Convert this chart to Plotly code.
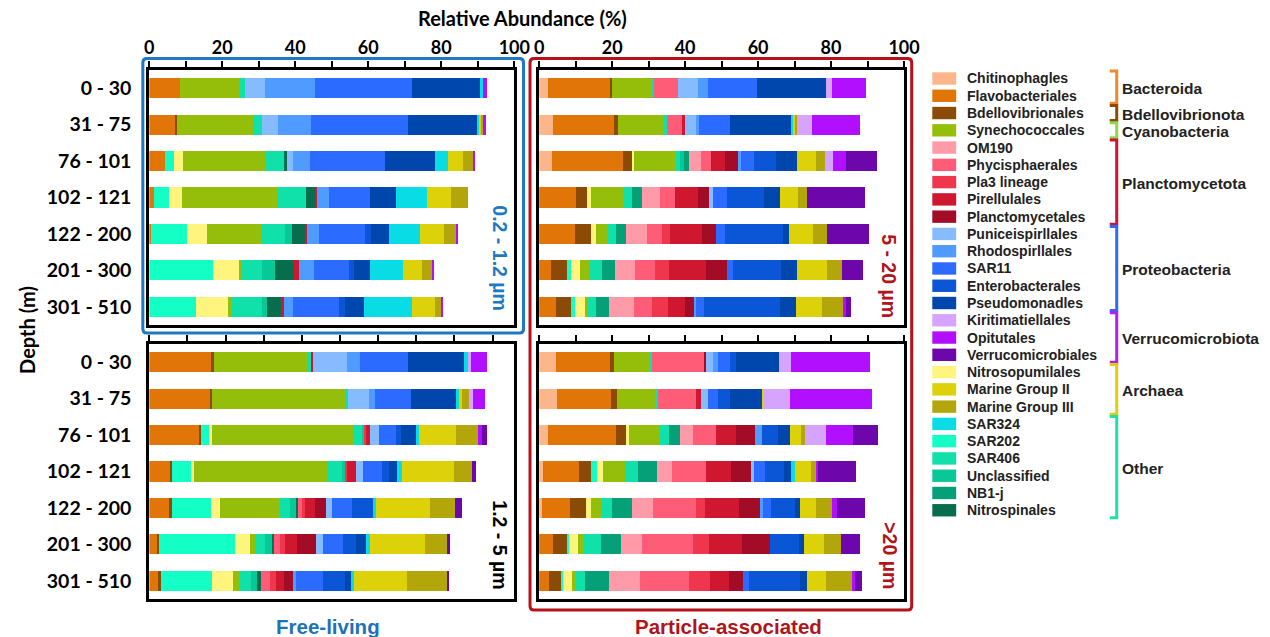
import plotly.graph_objects as go

# ---------------- data ----------------
DEPTHS = ["0 - 30", "31 - 75", "76 - 101", "102 - 121", "122 - 200", "201 - 300", "301 - 510"]

LEGEND_ORDER = [
    "Chitinophagles", "Flavobacteriales", "Bdellovibrionales", "Synechococcales",
    "OM190", "Phycisphaerales", "Pla3 lineage", "Pirellulales", "Planctomycetales",
    "Puniceispirllales", "Rhodospirllales", "SAR11", "Enterobacterales", "Pseudomonadles",
    "Kiritimatiellales", "Opitutales", "Verrucomicrobiales",
    "Nitrosopumilales", "Marine Group II", "Marine Group III",
    "SAR324", "SAR202", "SAR406", "Unclassified", "NB1-j", "Nitrospinales",
]

COLORS = {
    "Chitinophagles": "#FDB58A", "Flavobacteriales": "#E27508", "Bdellovibrionales": "#8B4A06",
    "Synechococcales": "#95BE0B", "OM190": "#FF9AA8", "Phycisphaerales": "#FF5C78",
    "Pla3 lineage": "#F0364C", "Pirellulales": "#CF1830", "Planctomycetales": "#A30C26",
    "Puniceispirllales": "#86BBFF", "Rhodospirllales": "#4F9BFF", "SAR11": "#2B6BFF",
    "Enterobacterales": "#0A56D6", "Pseudomonadles": "#0047AD", "Kiritimatiellales": "#D6A3FF",
    "Opitutales": "#B20EFF", "Verrucomicrobiales": "#6E07AB", "Nitrosopumilales": "#FFF47D",
    "Marine Group II": "#DDD20A", "Marine Group III": "#B3A60A", "SAR324": "#0ADCE5",
    "SAR202": "#13FFC6", "SAR406": "#10E0AA", "Unclassified": "#07C896",
    "NB1-j": "#06A078", "Nitrospinales": "#066E4D",
}

STACK_ORDER = [
    "Chitinophagles", "Flavobacteriales", "Bdellovibrionales", "SAR202", "Nitrosopumilales",
    "Synechococcales", "SAR406", "Unclassified", "NB1-j", "Nitrospinales",
    "OM190", "Phycisphaerales", "Pla3 lineage", "Pirellulales", "Planctomycetales",
    "Puniceispirllales", "Rhodospirllales", "SAR11", "Enterobacterales", "Pseudomonadles",
    "SAR324", "Marine Group II", "Marine Group III",
    "Kiritimatiellales", "Opitutales", "Verrucomicrobiales",
]

GROUPS = ["Bacteroida", "Bdellovibrionota", "Cyanobacteria", "Planctomycetota",
          "Proteobacteria", "Verrucomicrobiota", "Archaea", "Other"]
GROUP_FIRST = [0, 2, 3, 4, 9, 14, 17, 20]
GROUP_LAST = [1, 2, 3, 8, 13, 16, 19, 25]
GROUP_COLORS = ["#F0882E", "#8B4A06", "#8ED84C", "#CC1530",
                "#2E6BF0", "#B020F0", "#E0CC10", "#20E0A8"]

# Free-living 0.2 - 1.2 um (% relative abundance, 7 depths)
FL_SMALL = {
    "Flavobacteriales":  [8.45, 7.3, 4.4, 1.4, 0.4, 0, 0],
    "Bdellovibrionales": [0, 0.2, 0, 0, 0, 0, 0],
    "SAR202":            [0, 0, 2.5, 4.1, 10.0, 17.5, 12.9],
    "Nitrosopumilales":  [0, 0, 2.45, 3.4, 5.3, 7.3, 8.9],
    "Synechococcales":   [16.3, 20.9, 22.5, 26.4, 15.2, 0.45, 0.45],
    "SAR406":            [1.45, 2.45, 5.1, 7.7, 6.4, 5.7, 8.6],
    "Unclassified":      [0, 0, 0, 0, 1.8, 3.6, 1.5],
    "Nitrospinales":     [0, 0, 0.7, 2.5, 3.6, 5.0, 3.7],
    "Pirellulales":      [0, 0, 0, 0.5, 0.6, 1.6, 0.8],
    "Puniceispirllales": [5.4, 4.4, 1.8, 0, 0, 0, 0],
    "Rhodospirllales":   [13.7, 9.0, 4.7, 3.1, 3.2, 4.0, 2.5],
    "SAR11":             [26.8, 26.5, 20.5, 11.4, 12.7, 9.5, 12.7],
    "Enterobacterales":  [0, 0, 0, 0, 1.6, 1.5, 1.6],
    "Pseudomonadles":    [18.6, 19.0, 13.5, 7.1, 5.0, 4.3, 5.2],
    "SAR324":            [0.6, 0.7, 3.6, 8.5, 8.4, 9.1, 13.2],
    "Marine Group II":   [0, 0.6, 4.1, 6.6, 6.5, 5.3, 6.2],
    "Marine Group III":  [0, 0.5, 3.0, 4.7, 3.5, 2.7, 2.0],
    "Opitutales":        [1.1, 0.8, 0.45, 0, 0.4, 0.4, 0.3],
}

# Free-living 1.2 - 5 um
FL_LARGE = {
    "Flavobacteriales":  [16.5, 16.1, 13.3, 5.65, 5.5, 2.0, 2.4],
    "Bdellovibrionales": [0.35, 0.3, 0.35, 0.4, 0.35, 0.6, 0.6],
    "SAR202":            [0, 0, 2.0, 4.8, 10.4, 19.8, 13.5],
    "Nitrosopumilales":  [0, 0, 0.9, 0.9, 2.3, 3.9, 5.5],
    "Synechococcales":   [25.0, 35.0, 36.8, 35.2, 15.8, 1.5, 1.7],
    "SAR406":            [0.5, 0.6, 2.35, 3.5, 2.6, 2.6, 3.0],
    "Unclassified":      [0, 0, 0.6, 1.1, 1.6, 1.7, 1.6],
    "Nitrospinales":     [0, 0, 0, 0, 0.35, 0.7, 1.1],
    "Phycisphaerales":   [0, 0, 0, 0, 1.1, 1.5, 2.2],
    "Pla3 lineage":      [0, 0, 0.6, 0.35, 0.7, 1.3, 1.7],
    "Pirellulales":      [0.6, 0, 1.0, 2.2, 2.8, 3.2, 1.9],
    "Planctomycetales":  [0, 0, 0, 0, 2.8, 5.0, 2.6],
    "Puniceispirllales": [8.9, 5.5, 2.4, 2.0, 1.6, 1.7, 0],
    "Rhodospirllales":   [3.3, 1.7, 0, 0, 0, 0, 0.7],
    "SAR11":             [12.6, 9.4, 4.5, 4.8, 5.2, 5.2, 7.1],
    "Enterobacterales":  [0, 0, 1.3, 2.0, 5.5, 3.5, 5.65],
    "Pseudomonadles":    [14.8, 11.9, 3.9, 2.1, 0, 2.6, 1.7],
    "SAR324":            [0.9, 0.7, 0.7, 1.3, 0.8, 1.1, 0.7],
    "Marine Group II":   [0, 0.9, 9.7, 13.5, 14.3, 14.3, 13.8],
    "Marine Group III":  [0, 1.65, 5.9, 4.9, 6.5, 5.8, 10.7],
    "Kiritimatiellales": [0.9, 1.1, 0, 0, 0, 0, 0],
    "Opitutales":        [4.1, 3.2, 1.0, 0, 0, 0, 0],
    "Verrucomicrobiales": [0, 0, 1.3, 0.9, 1.8, 0.9, 0.45],
}

# Particle-associated 5 - 20 um
PA_SMALL = {
    "Chitinophagles":    [2.55, 3.8, 3.4, 0, 0, 0, 0],
    "Flavobacteriales":  [16.8, 16.6, 19.5, 10.2, 9.7, 3.2, 4.7],
    "Bdellovibrionales": [0.65, 1.2, 2.5, 3.0, 4.5, 4.5, 4.1],
    "SAR202":            [0, 0, 0, 0, 0, 0.9, 0.9],
    "Nitrosopumilales":  [0, 0, 0.7, 0.9, 1.45, 2.5, 2.8],
    "Synechococcales":   [10.7, 12.9, 11.5, 9.1, 3.2, 2.45, 0.8],
    "SAR406":            [0.65, 0.45, 0.9, 2.3, 2.2, 3.6, 2.4],
    "Unclassified":      [0, 0, 1.2, 0, 0, 0, 0],
    "NB1-j":             [0, 0, 1.3, 2.7, 2.7, 3.6, 3.5],
    "OM190":             [0, 0, 3.3, 4.8, 5.9, 5.6, 6.8],
    "Phycisphaerales":   [6.75, 4.3, 2.7, 4.3, 3.9, 5.5, 4.8],
    "Pla3 lineage":      [0, 0, 0, 0, 2.3, 3.8, 4.4],
    "Pirellulales":      [0, 0.7, 3.8, 6.1, 8.9, 10.2, 4.7],
    "Planctomycetales":  [0, 0, 3.6, 3.2, 3.8, 5.5, 2.45],
    "Puniceispirllales": [5.45, 2.9, 0, 1.0, 0, 0, 0],
    "Rhodospirllales":   [2.7, 1.0, 0.9, 0, 0, 0, 0.7],
    "SAR11":             [13.5, 8.5, 3.45, 3.8, 2.45, 1.8, 2.0],
    "Enterobacterales":  [0, 0, 6.1, 10.2, 15.9, 13.1, 21.0],
    "Pseudomonadles":    [18.9, 16.9, 5.7, 4.4, 1.6, 4.4, 4.3],
    "SAR324":            [0, 0.45, 0, 0, 0, 0, 0],
    "Marine Group II":   [0, 0.6, 5.45, 5.0, 6.6, 8.2, 7.3],
    "Marine Group III":  [0, 0.45, 2.45, 2.3, 3.8, 4.1, 5.7],
    "Kiritimatiellales": [1.55, 3.9, 2.1, 0, 0, 0, 0],
    "Opitutales":        [9.5, 13.4, 3.6, 0, 0, 0, 0.65],
    "Verrucomicrobiales": [0, 0, 8.4, 16.1, 11.4, 5.7, 1.55],
}

# Particle-associated >20 um
PA_LARGE = {
    "Chitinophagles":    [4.7, 5.0, 2.55, 1.1, 0.9, 0, 0],
    "Flavobacteriales":  [14.6, 14.7, 18.4, 9.8, 7.45, 3.9, 2.7],
    "Bdellovibrionales": [1.3, 1.6, 2.9, 3.4, 4.4, 3.6, 3.2],
    "SAR202":            [0, 0, 0, 1.45, 0, 0.8, 0.7],
    "Nitrosopumilales":  [0, 0, 0.7, 1.8, 1.55, 2.3, 2.45],
    "Synechococcales":   [9.8, 10.7, 8.4, 6.1, 3.0, 1.6, 0.7],
    "SAR406":            [0.45, 0.65, 2.55, 3.45, 2.7, 4.7, 2.9],
    "NB1-j":             [0, 0, 3.2, 5.2, 5.45, 5.5, 6.5],
    "OM190":             [0, 0, 3.45, 4.1, 5.7, 5.8, 8.45],
    "Phycisphaerales":   [14.4, 10.2, 6.3, 9.4, 11.7, 13.9, 13.6],
    "Pla3 lineage":      [0, 0, 0, 0, 2.7, 4.5, 5.6],
    "Pirellulales":      [0, 1.6, 5.5, 6.8, 9.2, 8.9, 5.3],
    "Planctomycetales":  [0.35, 0, 5.2, 5.45, 5.8, 7.9, 3.8],
    "Puniceispirllales": [2.1, 1.8, 0, 0.9, 0, 0, 0],
    "Rhodospirllales":   [1.2, 0, 1.8, 0, 0.7, 0, 0],
    "SAR11":             [3.4, 2.9, 0, 2.9, 2.3, 0, 1.6],
    "Enterobacterales":  [1.6, 3.2, 4.5, 5.3, 6.5, 7.7, 14.1],
    "Pseudomonadles":    [11.8, 8.9, 3.2, 1.8, 1.45, 1.4, 1.8],
    "SAR324":            [0, 0, 0, 1.1, 0, 0, 0],
    "Marine Group II":   [0, 0.45, 3.2, 4.4, 4.5, 5.45, 5.3],
    "Marine Group III":  [0, 0, 0.9, 1.55, 4.3, 4.7, 7.0],
    "Kiritimatiellales": [3.4, 7.1, 5.9, 0, 0, 0, 0],
    "Opitutales":        [21.5, 22.5, 7.5, 0.45, 1.2, 0, 0.9],
    "Verrucomicrobiales": [0, 0, 6.7, 10.3, 7.7, 5.3, 2.0],
}

X_TICKS = [0, 10, 20, 30, 40, 50, 60, 70, 80, 90, 100]
X_TICK_TEXT = ["0", "", "20", "", "40", "", "60", "", "80", "", "100"]

# ---------------- layout helpers ----------------
W, H = 1270, 637          # reference picture size (coordinates below are in its pixels)
FIG_W = 1285              # figure width; the photographed page is scaled back to 1270


def px(x):
    return x / W


def py(y):
    return 1 - y / H


PANELS = [
    # data, axis suffix, x-range, x pixel domain, y pixel domain, depth labels, x tick labels
    (FL_SMALL, "", [0, 100], (145, 511.7), (70, 325), True, True),
    (FL_LARGE, "2", [0, 95.7], (145, 511.7), (344, 599), True, False),
    (PA_SMALL, "3", [0, 100], (536.7, 903.3), (70, 325), False, True),
    (PA_LARGE, "4", [0, 100], (536.7, 903.3), (344, 599), False, False),
]

CAL = "Lato, 'Open Sans', sans-serif"
ARI = "'Liberation Sans', Arial, sans-serif"

fig = go.Figure()
layout = dict(
    width=FIG_W, height=H, autosize=False, margin=dict(l=0, r=0, t=0, b=0),
    paper_bgcolor="white", plot_bgcolor="white",
    barmode="stack", bargap=0.45, showlegend=False,
)

for data, ax, xr, (x0, x1), (y0, y1), show_depth, show_xlab in PANELS:
    for taxon in STACK_ORDER:
        vals = data.get(taxon)
        if vals is None:
            continue
        fig.add_trace(go.Bar(
            x=vals, y=DEPTHS, orientation="h", name=taxon,
            marker=dict(color=COLORS[taxon], line=dict(width=0)),
            width=0.55, xaxis="x" + ax, yaxis="y" + ax,
            hovertemplate=taxon + ": %{x}%<extra></extra>",
        ))
    tickvals = [t for t in X_TICKS if t <= xr[1]]
    layout["xaxis" + ax] = dict(
        domain=[px(x0), px(x1)], anchor="y" + ax, range=xr, side="top",
        tickvals=tickvals, ticktext=X_TICK_TEXT[:len(tickvals)],
        showticklabels=show_xlab, ticks="outside", ticklen=6, tickwidth=1.5,
        tickcolor="black", showline=True, mirror=True, linewidth=3, linecolor="black",
        showgrid=False, zeroline=False, fixedrange=True,
        tickfont=dict(family=CAL, size=18, color="black", weight="bold"),
    )
    layout["yaxis" + ax] = dict(
        domain=[py(y1), py(y0)], anchor="x" + ax, type="category",
        categoryorder="array", categoryarray=DEPTHS, range=[6.5, -0.5],
        showticklabels=show_depth, ticks="", showline=True, mirror=True,
        linewidth=3, linecolor="black", showgrid=False, zeroline=False,
        tickfont=dict(family=CAL, size=19.5, color="black", weight="bold"),
        ticklabelstandoff=11, fixedrange=True,
    )

fig.update_layout(**layout)

shapes = []
annotations = []


def label(x, y, text, font, xanchor="center", angle=0):
    annotations.append(dict(x=px(x), y=py(y), xref="paper", yref="paper", text=text,
                            showarrow=False, xanchor=xanchor, yanchor="middle",
                            textangle=angle, font=font))


def rounded(xa, ya, xb, yb, r, color):
    path = (f"M {px(xa + r)},{py(ya)} L {px(xb - r)},{py(ya)} "
            f"Q {px(xb)},{py(ya)} {px(xb)},{py(ya + r)} L {px(xb)},{py(yb - r)} "
            f"Q {px(xb)},{py(yb)} {px(xb - r)},{py(yb)} L {px(xa + r)},{py(yb)} "
            f"Q {px(xa)},{py(yb)} {px(xa)},{py(yb - r)} L {px(xa)},{py(ya + r)} "
            f"Q {px(xa)},{py(ya)} {px(xa + r)},{py(ya)} Z")
    return dict(type="path", xref="paper", yref="paper", path=path,
                line=dict(color=color, width=3), layer="above")


shapes.append(rounded(138.5, 58.5, 521, 333, 4, "#1E78C2"))
shapes.append(rounded(527.5, 58.5, 911, 610, 4, "#B5121B"))

label(520, 18, "<b>Relative Abundance (%)</b>", dict(family=CAL, size=20, color="black"))
label(22, 330, "<b>Depth (m)</b>", dict(family=CAL, size=20, color="black"), angle=-90)
label(325, 626, "<b>Free-living</b>", dict(family=ARI, size=20.5, color="#1E72B8"))
label(727, 626, "<b>Particle-associated</b>", dict(family=ARI, size=20.5, color="#B0141C"))

for txt, xx, yy, col in [("0.2 - 1.2 µm", 497, 258, "#1E78C2"),
                         ("1.2 - 5 µm", 497, 545, "black"),
                         ("5 - 20 µm", 888, 276, "#B0141C"),
                         ("&gt;20 µm", 889, 556, "#B0141C")]:
    label(xx, yy, "<b>" + txt + "</b>", dict(family=ARI, size=19.5, color=col), angle=90)

# legend (manual)
LEG_Y0, LEG_DY = 78.5, 17.27
for i, taxon in enumerate(LEGEND_ORDER):
    cy = LEG_Y0 + i * LEG_DY
    shapes.append(dict(type="rect", xref="paper", yref="paper",
                       x0=px(931.7), x1=px(955.7), y0=py(cy + 6.2), y1=py(cy - 6.2),
                       fillcolor=COLORS[taxon], line=dict(width=0)))
    label(965, cy, "<b>" + taxon + "</b>", dict(family=ARI, size=14, color="#222222"),
          xanchor="left")

for g, first, last, col in zip(GROUPS, GROUP_FIRST, GROUP_LAST, GROUP_COLORS):
    top = LEG_Y0 + first * LEG_DY - 7.5
    bot = LEG_Y0 + last * LEG_DY + 7.5
    path = (f"M {px(1110)},{py(top)} L {px(1117)},{py(top)} "
            f"L {px(1117)},{py(bot)} L {px(1110)},{py(bot)}")
    shapes.append(dict(type="path", xref="paper", yref="paper", path=path,
                       line=dict(color=col, width=3)))
    label(1120, (top + bot) / 2 + 1, "<b>" + g + "</b>",
          dict(family=ARI, size=15.5, color="#222222"), xanchor="left")

fig.update_layout(shapes=shapes, annotations=annotations)
fig.write_html(
    "out.html",
    config={"displayModeBar": False, "responsive": False},
    post_script="document.body.style.margin='0';document.body.style.overflow='hidden';",
)
